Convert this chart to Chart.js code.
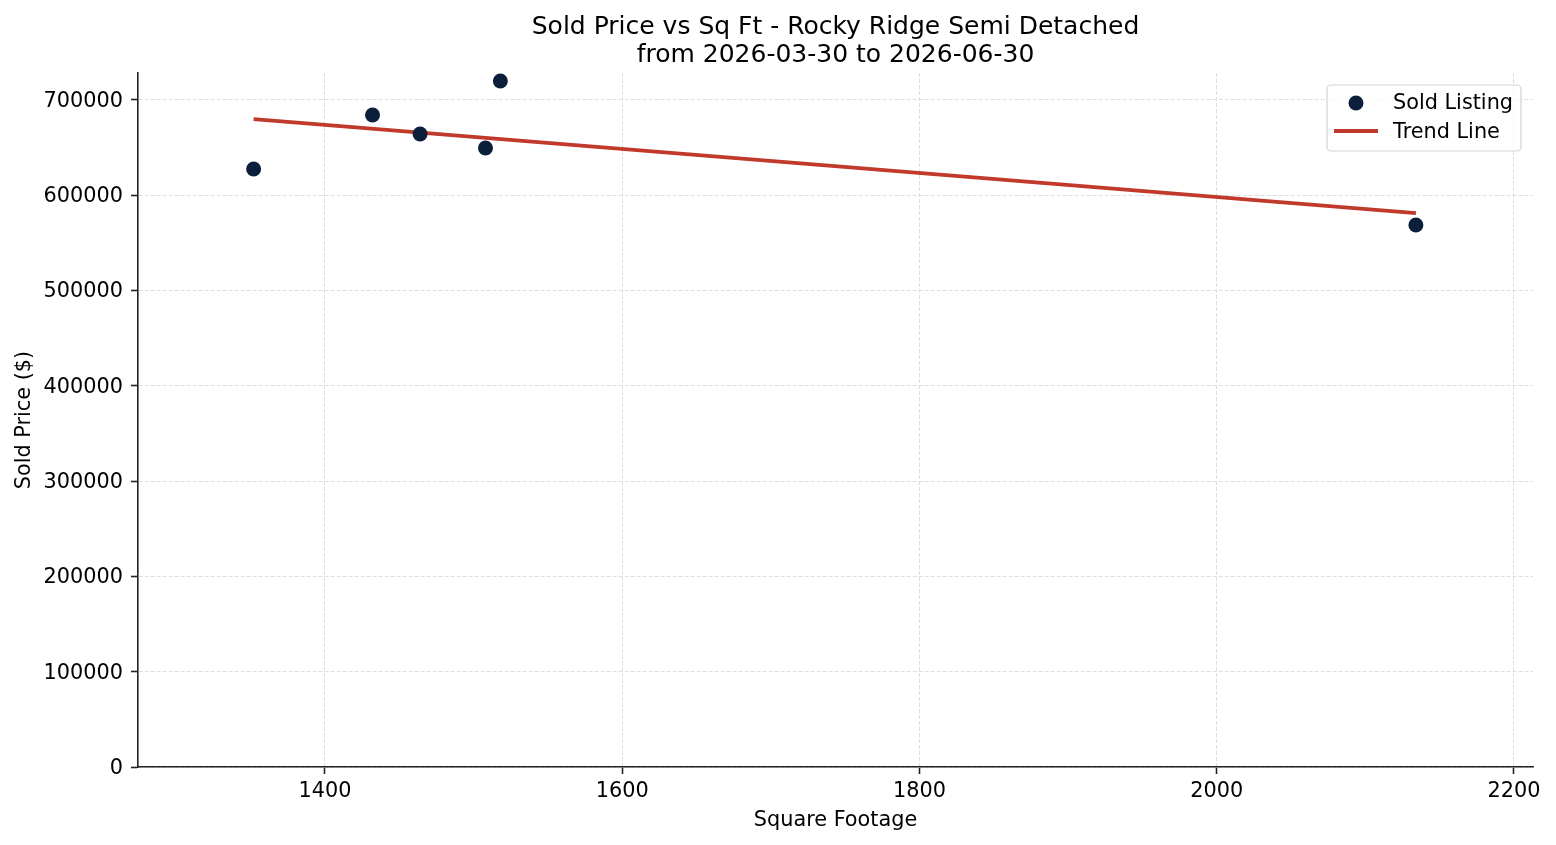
<!DOCTYPE html>
<html>
<head>
<meta charset="utf-8">
<script src="https://cdn.jsdelivr.net/npm/chart.js@4.4.1/dist/chart.umd.min.js"></script>
<style>
  html, body { margin: 0; padding: 0; background: #fff; }
  #wrap { width: 1556px; height: 845px; }
</style>
</head>
<body>
<div id="wrap"><canvas id="price-chart" width="1556" height="845"></canvas></div>
<script>
// data
var sqft = [1352, 1432, 1464, 1508, 1518, 2134];
var soldPrice = [627600, 684200, 664300, 649600, 719900, 568800];

var trendSqft = [1352, 2134];
var trendPrice = [680000, 581300];

var xTicks = [1400, 1600, 1800, 2000, 2200];
var yTicks = [0, 100000, 200000, 300000, 400000, 500000, 600000, 700000];

var titleLines = ["Sold Price vs Sq Ft - Rocky Ridge Semi Detached", "from 2026-03-30 to 2026-06-30"];

var navy = "#0b1f3a";
var red = "#c0392b";
var fontFamily = "'DejaVu Sans', sans-serif";
var fontSize = 20.8;

Chart.defaults.font.family = fontFamily;
Chart.defaults.color = "#000";

var scatterPoints = [];
for (var i = 0; i < sqft.length; i++) {
	scatterPoints.push({x: sqft[i], y: soldPrice[i]});
}
var trendPoints = [];
for (var i = 0; i < trendSqft.length; i++) {
	trendPoints.push({x: trendSqft[i], y: trendPrice[i]});
}

// legend box drawn inside the plot, top right
var legendInside = {
	id: "legendInside",
	afterDraw: function(chart) {
		var ctx = chart.ctx;
		var x = 1327, y = 85, w = 194, h = 66, r = 4;
		ctx.save();
		ctx.beginPath();
		ctx.moveTo(x + r, y);
		ctx.arcTo(x + w, y, x + w, y + h, r);
		ctx.arcTo(x + w, y + h, x, y + h, r);
		ctx.arcTo(x, y + h, x, y, r);
		ctx.arcTo(x, y, x + w, y, r);
		ctx.closePath();
		ctx.fillStyle = "rgba(255,255,255,0.8)";
		ctx.fill();
		ctx.strokeStyle = "#d3d3d3";
		ctx.lineWidth = 1.2;
		ctx.stroke();

		ctx.fillStyle = navy;
		ctx.beginPath();
		ctx.arc(1356, 103, 7.5, 0, Math.PI * 2);
		ctx.fill();

		ctx.strokeStyle = red;
		ctx.lineWidth = 3.8;
		ctx.beginPath();
		ctx.moveTo(1334, 131);
		ctx.lineTo(1378, 131);
		ctx.stroke();

		ctx.fillStyle = "#000";
		ctx.font = fontSize + "px " + fontFamily;
		ctx.textBaseline = "alphabetic";
		ctx.textAlign = "left";
		ctx.fillText(chart.data.datasets[0].label, 1393, 108.5);
		ctx.fillText(chart.data.datasets[1].label, 1393, 137.5);
		ctx.restore();
	}
};

var ctx = document.getElementById("price-chart").getContext("2d");

var priceChart = new Chart(ctx, {
	type: "scatter",
	data: {
		datasets: [
			{
				label: "Sold Listing",
				data: scatterPoints,
				backgroundColor: navy,
				borderColor: navy,
				borderWidth: 0,
				pointRadius: 7.5,
				pointHoverRadius: 7.5,
				order: 1
			},
			{
				type: "line",
				label: "Trend Line",
				data: trendPoints,
				borderColor: red,
				backgroundColor: red,
				borderWidth: 3.8,
				pointRadius: 0,
				fill: false,
				tension: 0,
				order: 2
			}
		]
	},
	options: {
		responsive: false,
		animation: false,
		devicePixelRatio: 1,
		layout: {padding: {top: 0, right: 23, bottom: 0, left: 0}},
		plugins: {
			legend: {display: false},
			tooltip: {enabled: false},
			title: {
				display: true,
				fullSize: false,
				text: titleLines,
				color: "#000",
				font: {size: 25, weight: "normal", lineHeight: 1.12},
				padding: {top: 13, bottom: 4}
			}
		},
		scales: {
			x: {
				type: "linear",
				min: 1274.2,
				max: 2212.8,
				afterFit: function(scale) { scale.height = 78; },
				afterBuildTicks: function(scale) {
					scale.ticks = xTicks.map(function(v) { return {value: v}; });
				},
				ticks: {
					color: "#000",
					font: {size: fontSize},
					padding: 5,
					maxRotation: 0,
					includeBounds: false,
					callback: function(v) { return String(v); }
				},
				grid: {
					color: "#d6d6d6",
					lineWidth: 0.8,
					tickLength: 7,
					tickColor: "#222",
					tickWidth: 1.6
				},
				border: {display: true, color: "#222", width: 1.6, dash: [4, 2]},
				title: {
					display: true,
					text: "Square Footage",
					color: "#000",
					font: {size: fontSize},
					padding: {top: 0, bottom: 12}
				}
			},
			y: {
				type: "linear",
				min: 0,
				max: 728300,
				afterFit: function(scale) { scale.width = 138; },
				afterBuildTicks: function(scale) {
					scale.ticks = yTicks.map(function(v) { return {value: v}; });
				},
				ticks: {
					color: "#000",
					font: {size: fontSize},
					padding: 8,
					labelOffset: 1.5,
					includeBounds: false,
					callback: function(v) { return String(v); }
				},
				grid: {
					color: "#d6d6d6",
					lineWidth: 0.8,
					tickLength: 7,
					tickColor: "#222",
					tickWidth: 1.6
				},
				border: {display: true, color: "#222", width: 1.6, dash: [4, 2]},
				title: {
					display: true,
					text: "Sold Price ($)",
					color: "#000",
					font: {size: fontSize},
					padding: {top: 12, bottom: 0}
				}
			}
		}
	},
	plugins: [legendInside]
});
</script>
</body>
</html>
